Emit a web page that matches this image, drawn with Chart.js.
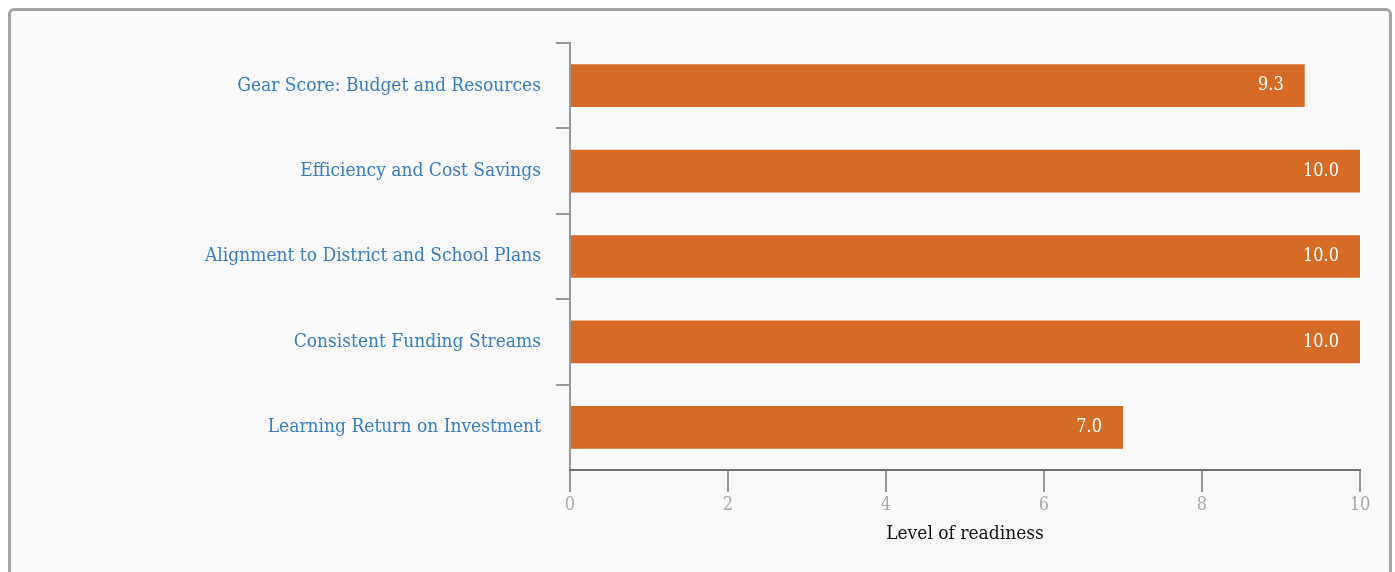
<!DOCTYPE html>
<html>
<head>
<meta charset="utf-8">
<script src="https://cdn.jsdelivr.net/npm/chart.js@4.4.1/dist/chart.umd.min.js"></script>
<style>
  html, body { margin: 0; padding: 0; background: #fff; overflow: hidden; }
  .frame {
    position: absolute; left: 8px; top: 8px; width: 1378px; height: 600px;
    border: 3px solid #a3a3a3; border-radius: 6px; background: #f9f9f9;
  }
  .wrap { position: absolute; left: 0; top: 0; width: 1395px; height: 572px; }
</style>
</head>
<body>
<div class="frame"></div>
<div class="wrap"><canvas id="readiness"></canvas></div>
<script>
// Readiness scores per category
const categories = [
  "Gear Score: Budget and Resources",
  "Efficiency and Cost Savings",
  "Alignment to District and School Plans",
  "Consistent Funding Streams",
  "Learning Return on Investment"
];
const scores = [9.3, 10.0, 10.0, 10.0, 7.0];
const xTicks = [0, 2, 4, 6, 8, 10];

const serif = "'DejaVu Serif Condensed', 'DejaVu Serif', serif";

// white value labels drawn just inside the end of each bar
const barValues = {
  id: 'barValues',
  afterDatasetsDraw(chart) {
    const ctx = chart.ctx;
    const meta = chart.getDatasetMeta(0);
    ctx.save();
    ctx.font = "18px " + serif;
    ctx.fillStyle = '#ffffff';
    ctx.textAlign = 'right';
    ctx.textBaseline = 'middle';
    meta.data.forEach((bar, i) => {
      ctx.fillText(scores[i].toFixed(1), bar.x - 21, bar.y);
    });
    ctx.restore();
  }
};

new Chart(document.getElementById('readiness'), {
  type: 'bar',
  data: {
    labels: categories,
    datasets: [{
      data: scores,
      backgroundColor: '#d66b28',
      borderWidth: 0,
      barPercentage: 0.5,
      categoryPercentage: 1.0
    }]
  },
  options: {
    indexAxis: 'y',
    responsive: true,
    maintainAspectRatio: false,
    animation: false,
    layout: { padding: { top: 43, right: 35, bottom: 27, left: 0 } },
    plugins: {
      legend: { display: false },
      tooltip: { enabled: false }
    },
    scales: {
      y: {
        afterFit(scale) { scale.width = 570; },
        grid: {
          drawOnChartArea: false,
          drawTicks: true,
          tickLength: 14,
          // no tick on the closing boundary where the x axis starts
          color: (c) => (c.tick ? '#999' : 'rgba(0,0,0,0)'),
          lineWidth: 2
        },
        border: { color: '#999', width: 2 },
        ticks: { color: '#3a7ebf', padding: 15, font: { family: serif, size: 19 } }
      },
      x: {
        min: 0,
        max: 10,
        afterFit(scale) { scale.height = 75; },
        afterBuildTicks(scale) { scale.ticks = xTicks.map(v => ({ value: v })); },
        grid: { drawOnChartArea: false, drawTicks: true, tickLength: 22, color: '#999', lineWidth: 2 },
        border: { color: '#6e6e6e', width: 2 },
        ticks: { color: '#aaa', padding: 3, font: { family: serif, size: 18 } },
        title: {
          display: true,
          text: 'Level of readiness',
          color: '#111',
          padding: { top: 4, bottom: 0 },
          font: { family: serif, size: 19 }
        }
      }
    }
  },
  plugins: [barValues]
});
</script>
</body>
</html>
